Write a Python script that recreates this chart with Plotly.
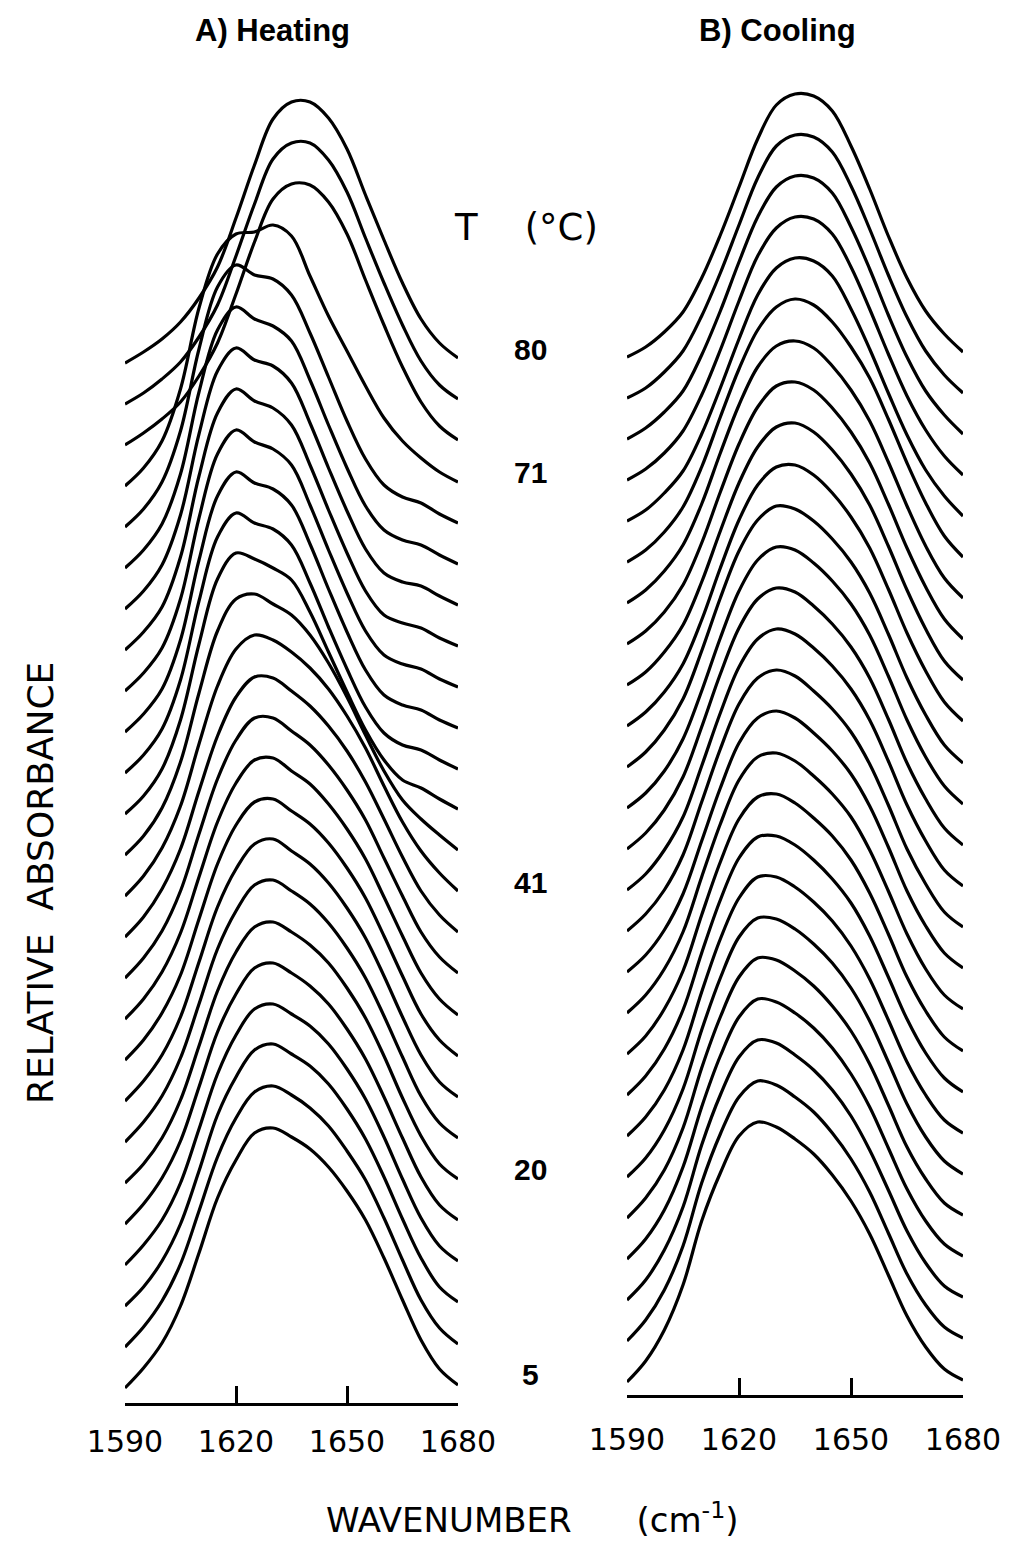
import plotly.graph_objects as go

# ---------------- data ----------------
wavenumber = list(range(1590, 1681, 5))          # cm-1, sampling of each spectrum
heating_temps = list(range(5, 81, 3))             # 5 ... 80 C, bottom to top
cooling_temps = list(range(5, 81, 3))
label_temps = [5, 20, 41, 71, 80]                 # temperatures printed beside panel A
x_ticks = [1590, 1620, 1650, 1680]
offset_step = 41                                  # vertical stacking offset (mA units)

# relative absorbance (milli-units, baseline removed), one row per temperature
heating_abs = [
    [0, 20, 45, 82, 135, 190, 228, 255, 260, 251, 239, 221, 197, 168, 130, 88, 48, 19, 3],   # 5
    [0, 20, 46, 83, 136, 190, 229, 255, 261, 252, 239, 221, 196, 167, 129, 87, 47, 19, 3],   # 8
    [0, 19, 45, 82, 135, 191, 229, 256, 262, 252, 240, 222, 197, 167, 129, 87, 48, 19, 4],   # 11
    [0, 20, 45, 82, 136, 191, 230, 256, 261, 251, 239, 221, 196, 166, 128, 86, 47, 19, 4],   # 14
    [0, 20, 46, 83, 137, 192, 230, 256, 261, 251, 238, 220, 195, 165, 127, 86, 47, 19, 4],   # 17
    [0, 19, 45, 83, 137, 192, 231, 256, 261, 251, 238, 220, 195, 165, 127, 85, 47, 19, 4],   # 20
    [0, 20, 46, 84, 138, 193, 231, 257, 262, 251, 238, 219, 194, 164, 126, 85, 46, 19, 4],   # 23
    [0, 20, 46, 84, 139, 194, 232, 257, 262, 250, 237, 218, 193, 163, 125, 84, 46, 19, 4],   # 26
    [0, 20, 47, 85, 141, 196, 235, 258, 261, 249, 236, 217, 192, 162, 124, 84, 46, 20, 4],   # 29
    [0, 20, 47, 86, 142, 197, 236, 259, 261, 248, 235, 215, 190, 160, 122, 83, 46, 20, 4],   # 32
    [0, 20, 47, 87, 144, 199, 238, 260, 260, 247, 233, 213, 188, 158, 120, 82, 46, 21, 5],   # 35
    [0, 20, 48, 88, 146, 201, 240, 260, 259, 246, 231, 211, 186, 155, 118, 80, 46, 22, 5],   # 38
    [0, 20, 48, 90, 152, 210, 247, 261, 256, 244, 228, 207, 180, 148, 110, 74, 45, 23, 5],   # 41
    [0, 19, 47, 93, 162, 224, 256, 261, 251, 240, 220, 192, 158, 120, 84, 55, 36, 20, 5],    # 44
    [0, 18, 45, 94, 170, 235, 261, 255, 246, 234, 202, 162, 122, 84, 54, 34, 26, 15, 5],     # 47
    [0, 18, 44, 93, 172, 236, 260, 250, 244, 228, 190, 146, 104, 66, 40, 28, 23, 13, 4],     # 50
    [0, 18, 43, 92, 172, 236, 260, 249, 243, 227, 188, 143, 100, 62, 37, 27, 22, 12, 4],     # 53
    [0, 18, 43, 92, 173, 237, 261, 249, 242, 226, 186, 141, 98, 60, 36, 27, 22, 12, 4],      # 56
    [0, 18, 43, 93, 174, 237, 261, 249, 242, 225, 185, 140, 97, 59, 35, 27, 22, 12, 4],      # 59
    [0, 18, 44, 94, 175, 238, 261, 249, 243, 226, 186, 141, 98, 60, 36, 27, 23, 13, 4],      # 62
    [0, 18, 44, 94, 176, 238, 261, 249, 242, 227, 188, 143, 100, 62, 38, 28, 23, 13, 4],     # 65
    [0, 18, 45, 96, 178, 240, 262, 252, 248, 232, 194, 150, 106, 68, 42, 30, 24, 13, 4],     # 68
    [0, 18, 45, 97, 178, 232, 252, 254, 261, 250, 210, 170, 135, 100, 68, 45, 28, 14, 4],    # 71
    [0, 12, 26, 43, 69, 102, 151, 203, 246, 261, 260, 243, 211, 165, 120, 78, 43, 19, 5],    # 74
    [0, 11, 25, 42, 67, 99, 148, 200, 245, 261, 261, 244, 212, 166, 121, 79, 43, 19, 5],     # 77
    [0, 11, 24, 41, 65, 96, 145, 198, 244, 261, 261, 245, 214, 168, 123, 80, 44, 20, 5],     # 80
]

cooling_abs = [
    [0, 21, 52, 97, 161, 209, 246, 260, 255, 243, 228, 207, 181, 148, 107, 66, 35, 13, 2],
    [0, 21, 51, 95, 158, 207, 244, 260, 256, 244, 229, 208, 182, 149, 108, 67, 36, 14, 3],
    [0, 20, 50, 93, 155, 205, 243, 260, 257, 245, 230, 210, 184, 150, 110, 69, 37, 14, 3],
    [0, 20, 49, 92, 152, 203, 242, 260, 257, 246, 231, 211, 185, 152, 111, 70, 38, 15, 3],
    [0, 20, 48, 90, 150, 201, 241, 260, 258, 247, 232, 212, 187, 154, 113, 71, 39, 15, 3],
    [0, 19, 47, 88, 147, 199, 240, 259, 258, 248, 233, 214, 189, 156, 115, 73, 40, 16, 3],
    [0, 19, 46, 86, 144, 197, 238, 259, 259, 249, 234, 215, 190, 157, 116, 74, 41, 16, 3],
    [0, 19, 46, 85, 142, 195, 237, 258, 259, 250, 235, 216, 192, 159, 118, 76, 42, 17, 3],
    [0, 18, 45, 83, 139, 192, 235, 257, 260, 251, 236, 218, 194, 161, 120, 77, 43, 17, 3],
    [0, 18, 44, 81, 136, 189, 233, 256, 260, 252, 237, 219, 196, 163, 122, 79, 44, 18, 4],
    [0, 17, 42, 78, 131, 184, 229, 254, 261, 254, 239, 221, 198, 166, 125, 81, 46, 19, 4],
    [0, 17, 41, 76, 129, 182, 227, 253, 261, 255, 240, 222, 199, 167, 126, 82, 47, 19, 4],
    [0, 16, 40, 73, 124, 177, 223, 251, 261, 256, 242, 224, 201, 170, 129, 85, 49, 20, 4],
    [0, 16, 39, 72, 122, 175, 221, 250, 261, 257, 243, 225, 202, 171, 130, 86, 50, 21, 4],
    [0, 15, 37, 69, 117, 170, 217, 248, 261, 258, 245, 227, 204, 173, 132, 88, 51, 22, 4],
    [0, 15, 37, 68, 116, 169, 216, 247, 261, 258, 246, 228, 205, 174, 133, 89, 52, 22, 4],
    [0, 14, 34, 62, 106, 158, 206, 241, 259, 261, 251, 233, 209, 178, 137, 93, 55, 24, 5],
    [0, 13, 33, 60, 103, 154, 202, 238, 258, 262, 253, 235, 211, 180, 139, 95, 56, 24, 5],
    [0, 13, 32, 59, 101, 152, 200, 237, 258, 262, 254, 236, 212, 181, 140, 96, 57, 25, 5],
    [0, 13, 32, 58, 99, 150, 198, 236, 257, 262, 255, 237, 213, 182, 141, 97, 57, 25, 5],
    [0, 12, 30, 55, 95, 145, 193, 232, 255, 263, 257, 240, 215, 184, 143, 99, 59, 26, 5],
    [0, 11, 28, 50, 87, 133, 182, 226, 253, 263, 260, 245, 212, 172, 128, 86, 51, 25, 5],
    [0, 11, 27, 49, 85, 130, 179, 224, 252, 263, 261, 246, 213, 171, 126, 84, 50, 24, 5],
    [0, 11, 27, 48, 84, 128, 177, 222, 252, 263, 261, 246, 212, 170, 124, 82, 48, 24, 5],
    [0, 10, 26, 47, 82, 125, 173, 220, 252, 263, 261, 246, 212, 169, 123, 81, 47, 23, 5],
    [0, 10, 25, 45, 79, 122, 170, 218, 252, 263, 261, 246, 211, 168, 121, 79, 46, 23, 5],
]

for row in heating_abs + cooling_abs:
    assert len(row) == len(wavenumber)

# ---------------- figure ----------------
# the page body has an 8 px margin, so the figure is 8 px smaller and positions are shifted
PAD = 8
W, H = 1021 - PAD, 1553 - PAD


def fx(sx):
    return (sx - PAD) / W


def fy(sy):
    return 1 - (sy - PAD) / H


LINE = dict(color="black", width=3.2, shape="spline", smoothing=1.0)

fig = go.Figure()
for i, row in enumerate(heating_abs):
    fig.add_trace(go.Scatter(x=wavenumber, y=[v + i * offset_step for v in row],
                             mode="lines", line=LINE, xaxis="x", yaxis="y",
                             name=f"{heating_temps[i]} °C", showlegend=False, hoverinfo="skip"))
for i, row in enumerate(cooling_abs):
    fig.add_trace(go.Scatter(x=wavenumber, y=[v + i * offset_step for v in row],
                             mode="lines", line=LINE, xaxis="x2", yaxis="y2",
                             name=f"{cooling_temps[i]} °C", showlegend=False, hoverinfo="skip"))

tickfont = dict(family="DejaVu Sans", size=30, color="black")
xcommon = dict(range=[wavenumber[0], wavenumber[-1]], showgrid=False, zeroline=False,
               showline=True, linecolor="black", linewidth=3.2,
               ticks="inside", ticklen=17, tickwidth=3.2, tickcolor="black",
               tickvals=x_ticks, ticktext=[str(t) for t in x_ticks],
               tickfont=tickfont, automargin=False)

HB, CB = 1403, 1395          # screen y of the heating / cooling base lines
H_LOW, C_LOW = -15, -13      # value of each base line below the first spectrum
fig.update_layout(
    width=W, height=H,
    margin=dict(l=0, r=0, t=0, b=0),
    paper_bgcolor="white", plot_bgcolor="white",
    xaxis=dict(domain=[fx(125), fx(458)], anchor="y", ticklabelstandoff=10, **xcommon),
    yaxis=dict(domain=[fy(HB), 1], range=[H_LOW, HB - PAD + H_LOW], visible=False),
    xaxis2=dict(domain=[fx(627), fx(963)], anchor="y2", ticklabelstandoff=16, **xcommon),
    yaxis2=dict(domain=[fy(CB), 1], range=[C_LOW, CB - PAD + C_LOW], visible=False),
)

TXT = dict(xref="paper", yref="paper", showarrow=False, xanchor="center", yanchor="middle")
ann = []
ann.append(dict(text="<b>A) Heating</b>", x=fx(272), y=fy(30),
                font=dict(family="Liberation Sans", size=31, color="black"), **TXT))
ann.append(dict(text="<b>B) Cooling</b>", x=fx(777), y=fy(30),
                font=dict(family="Liberation Sans", size=31, color="black"), **TXT))
ann.append(dict(text="T\u00a0\u00a0\u00a0\u00a0(°C)", x=fx(526), y=fy(228),
                font=dict(family="DejaVu Sans", size=37, color="black"), **TXT))
for t in label_temps:
    idx = heating_temps.index(t)
    ann.append(dict(text=f"<b>{t}</b>", x=fx(530), y=idx * offset_step + 14, xref="paper", yref="y",
                    showarrow=False, xanchor="center", yanchor="middle",
                    font=dict(family="Liberation Sans", size=30, color="black")))
ann.append(dict(text="RELATIVE\u00a0\u00a0ABSORBANCE", x=fx(40), y=fy(883), textangle=-90,
                font=dict(family="DejaVu Sans", size=36, color="black"), **TXT))
ann.append(dict(text="WAVENUMBER\u00a0\u00a0\u00a0\u00a0\u00a0\u00a0(cm<sup>-1</sup>)", x=fx(532), y=fy(1518),
                font=dict(family="DejaVu Sans", size=34, color="black"), **TXT))
fig.update_layout(annotations=ann)

fig.write_html("out.html")
